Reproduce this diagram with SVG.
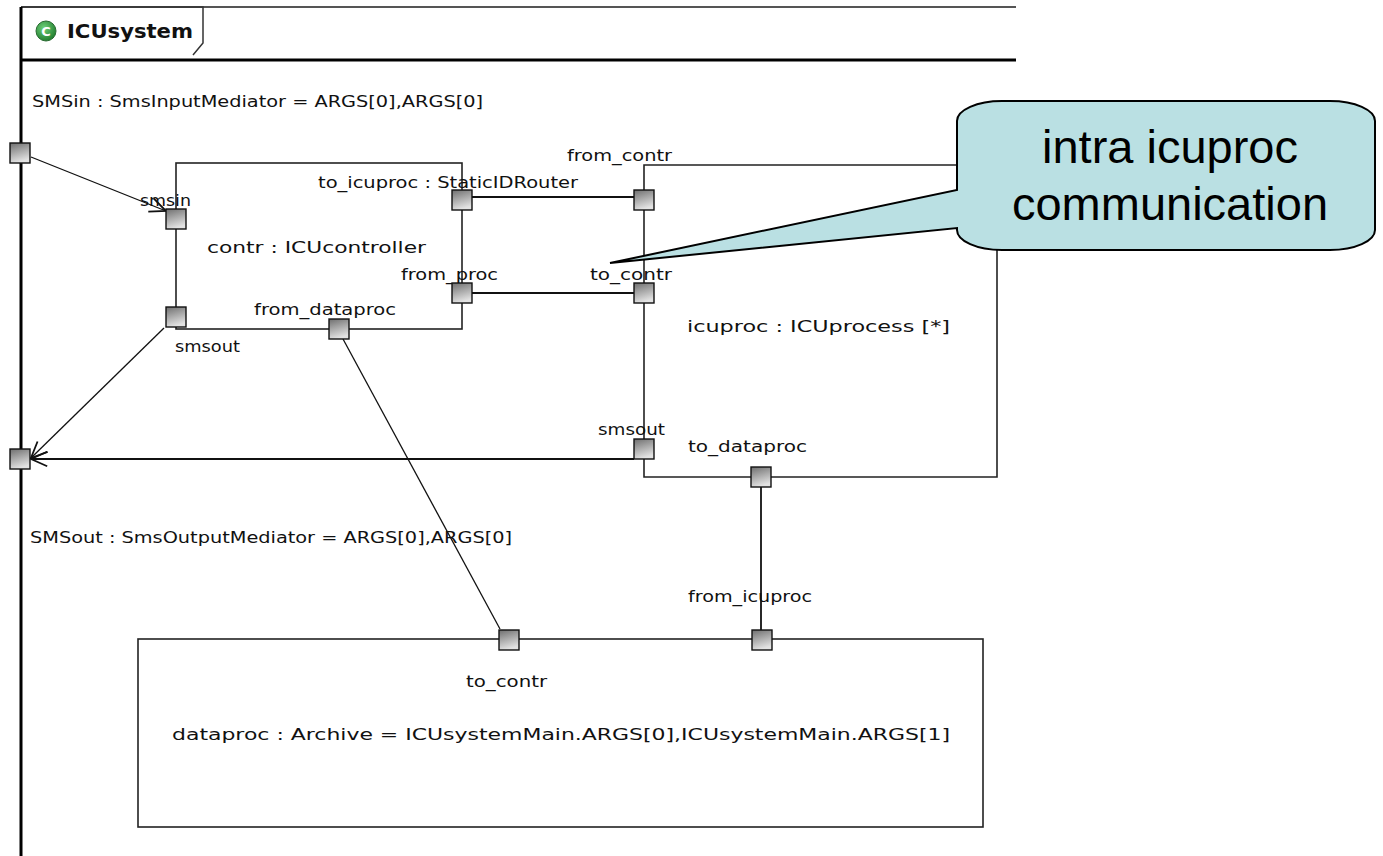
<svg xmlns="http://www.w3.org/2000/svg" width="1383" height="856" viewBox="0 0 1383 856">
<style>
.t{font-family:"DejaVu Sans","Liberation Sans",sans-serif;font-size:16px;fill:#111}
.box{fill:none;stroke:#222;stroke-width:1.6}
.port{fill:url(#pg);stroke:#111;stroke-width:1.4}
.c{fill:none;stroke:#111;stroke-width:1.3}
.cb{fill:none;stroke:#111;stroke-width:1.8}
</style>
<defs>
<linearGradient id="pg" x1="0" y1="0" x2="0.3" y2="1">
<stop offset="0" stop-color="#6e6e6e"/>
<stop offset="1" stop-color="#e2e2e2"/>
</linearGradient>
<radialGradient id="ig" cx="0.4" cy="0.35" r="0.7">
<stop offset="0" stop-color="#6fd07a"/>
<stop offset="1" stop-color="#1d7a2a"/>
</radialGradient>
<marker id="open" viewBox="0 0 20 20" refX="19" refY="10" markerWidth="18" markerHeight="18" markerUnits="userSpaceOnUse" orient="auto">
<path d="M1,2 L19,10 L1,18" fill="none" stroke="#111" stroke-width="2"/>
</marker>
</defs>
<rect width="1383" height="856" fill="#fff"/>

<g id="frame">
<line x1="21" y1="7" x2="1016" y2="7" stroke="#555" stroke-width="2"/>
<path d="M21,7 H203 V43 L193,55" fill="none" stroke="#333" stroke-width="1.5"/>
<line x1="21" y1="60" x2="1016" y2="60" stroke="#000" stroke-width="3"/>
<line x1="21" y1="7" x2="21" y2="856" stroke="#000" stroke-width="3"/>
<circle cx="46" cy="31" r="10" fill="url(#ig)" stroke="#2a6b32" stroke-width="1"/>
<text x="46" y="36" text-anchor="middle" style="font-family:'DejaVu Sans',sans-serif;font-size:13px;font-weight:bold;fill:#fff">C</text>
<text x="67" y="38" style="font-family:'DejaVu Sans','Liberation Sans',sans-serif;font-size:19px;font-weight:bold;fill:#111" textLength="126" lengthAdjust="spacingAndGlyphs">ICUsystem</text>
</g>

<g id="connectors">
<line class="c" x1="31" y1="157" x2="166" y2="211" marker-end="url(#open)"/>
<line class="cb" x1="472" y1="197" x2="634" y2="197"/>
<line class="cb" x1="472" y1="293" x2="634" y2="293"/>
<line class="c" x1="164" y1="328" x2="31" y2="458" marker-end="url(#open)"/>
<line class="cb" x1="634" y1="459" x2="31" y2="459" marker-end="url(#open)"/>
<line class="c" x1="343" y1="339" x2="500" y2="629"/>
<line class="cb" x1="761" y1="487" x2="761" y2="630"/>
</g>

<g id="SMSin">
<text class="t" x="32" y="107" textLength="451" lengthAdjust="spacingAndGlyphs">SMSin : SmsInputMediator = ARGS[0],ARGS[0]</text>
<rect class="port" x="10" y="143" width="20" height="20"/>
</g>

<g id="SMSout">
<text class="t" x="30" y="543" textLength="482" lengthAdjust="spacingAndGlyphs">SMSout : SmsOutputMediator = ARGS[0],ARGS[0]</text>
<rect class="port" x="10" y="449" width="20" height="20"/>
</g>

<g id="contr">
<rect class="box" x="176" y="163" width="286" height="166"/>
<text class="t" x="207" y="253" textLength="219" lengthAdjust="spacingAndGlyphs">contr : ICUcontroller</text>
<text class="t" x="140" y="206" textLength="51" lengthAdjust="spacingAndGlyphs">smsin</text>
<rect class="port" x="166" y="209" width="20" height="20"/>
<text class="t" x="175" y="352" textLength="65" lengthAdjust="spacingAndGlyphs">smsout</text>
<rect class="port" x="166" y="307" width="20" height="20"/>
<text class="t" x="318" y="188" textLength="260" lengthAdjust="spacingAndGlyphs">to_icuproc : StaticIDRouter</text>
<rect class="port" x="452" y="190" width="20" height="20"/>
<text class="t" x="401" y="280" textLength="97" lengthAdjust="spacingAndGlyphs">from_proc</text>
<rect class="port" x="452" y="283" width="20" height="20"/>
<text class="t" x="254" y="315" textLength="142" lengthAdjust="spacingAndGlyphs">from_dataproc</text>
<rect class="port" x="329" y="319" width="20" height="20"/>
</g>

<g id="icuproc">
<path class="box" d="M644,165 H997 V477 H644 Z"/>
<text class="t" x="687" y="332" textLength="263" lengthAdjust="spacingAndGlyphs">icuproc : ICUprocess [*]</text>
<text class="t" x="567" y="161" textLength="105" lengthAdjust="spacingAndGlyphs">from_contr</text>
<rect class="port" x="634" y="190" width="20" height="20"/>
<text class="t" x="590" y="280" textLength="82" lengthAdjust="spacingAndGlyphs">to_contr</text>
<rect class="port" x="634" y="283" width="20" height="20"/>
<text class="t" x="598" y="435" textLength="67" lengthAdjust="spacingAndGlyphs">smsout</text>
<rect class="port" x="634" y="439" width="20" height="20"/>
<text class="t" x="688" y="452" textLength="119" lengthAdjust="spacingAndGlyphs">to_dataproc</text>
<rect class="port" x="751" y="467" width="20" height="20"/>
</g>

<g id="dataproc">
<rect class="box" x="138" y="639" width="845" height="188"/>
<text class="t" x="172" y="740" textLength="778" lengthAdjust="spacingAndGlyphs">dataproc : Archive = ICUsystemMain.ARGS[0],ICUsystemMain.ARGS[1]</text>
<text class="t" x="466" y="687" textLength="81" lengthAdjust="spacingAndGlyphs">to_contr</text>
<rect class="port" x="499" y="630" width="20" height="20"/>
<text class="t" x="688" y="602" textLength="124" lengthAdjust="spacingAndGlyphs">from_icuproc</text>
<rect class="port" x="752" y="630" width="20" height="20"/>
</g>

<g id="callout">
<path d="M1002,101 H1330 A45,20 0 0 1 1375,121 V230 A45,20 0 0 1 1330,250 H1002 A45,20 0 0 1 957,230 V228 L610,263 L957,190 V121 A45,20 0 0 1 1002,101 Z" fill="#bae0e3" stroke="#000" stroke-width="2"/>
<text x="1170" y="163" text-anchor="middle" style="font-family:'Liberation Sans',Arial,sans-serif;font-size:47px;fill:#000">intra icuproc</text>
<text x="1170" y="220" text-anchor="middle" style="font-family:'Liberation Sans',Arial,sans-serif;font-size:47px;fill:#000">communication</text>
</g>
</svg>
